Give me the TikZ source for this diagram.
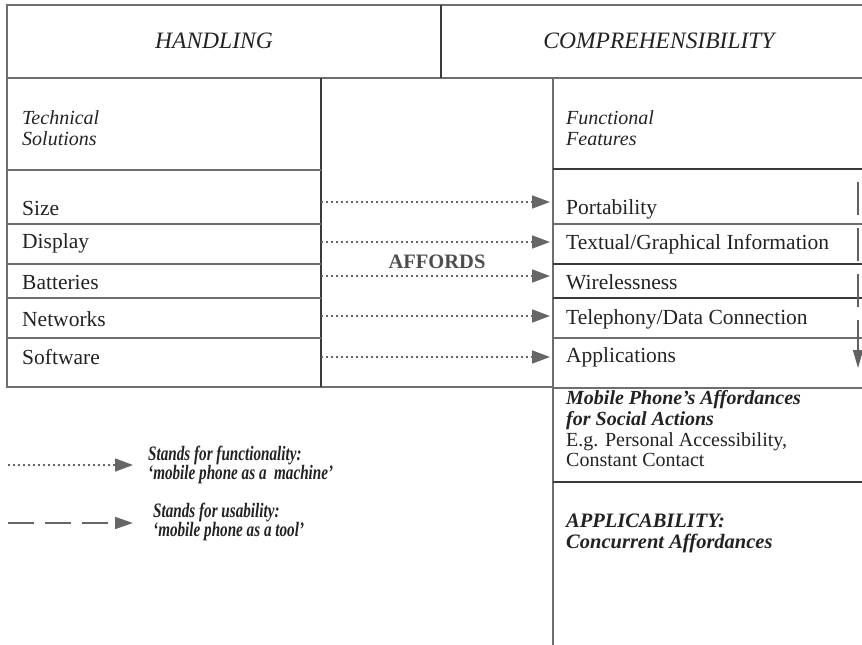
\documentclass[tikz,border=0pt]{standalone}
\usepackage{fontspec}
\setmainfont{Liberation Serif}
\newfontfamily\narrowserif[FakeStretch=0.74]{Liberation Serif}
\usetikzlibrary{arrows.meta}
\definecolor{rule}{HTML}{6E6E6E}
\definecolor{ruledark}{HTML}{3A3A3A}
\definecolor{ink}{HTML}{222222}
\definecolor{tipgray}{HTML}{666666}
\begin{document}
\begin{tikzpicture}[x=1pt,y=-1pt,
  frame/.style={draw=rule,line width=1.2pt},
  framedark/.style={draw=ruledark,line width=1.1pt},
  txt/.style={inner sep=0pt,anchor=west,text=ink,font=\fontsize{21.5}{21}\selectfont},
  head/.style={inner sep=0pt,text=ink,font=\fontsize{23.5}{24}\selectfont\itshape},
  itxt/.style={txt,font=\fontsize{20}{21}\selectfont\itshape,align=left},
  itbold/.style={txt,font=\fontsize{20.5}{21}\selectfont\itshape\bfseries,align=left},
  legtxt/.style={txt,font=\narrowserif\fontsize{20.5}{19.5}\selectfont\itshape\bfseries,align=left},
  dotarrow/.style={draw=tipgray,line width=1.6pt,dash pattern=on 1.6pt off 3.4pt,
    -{Triangle[length=18pt,width=13pt,fill=tipgray]}},
  dasharrow/.style={draw=tipgray,line width=1.6pt,dash pattern=on 26pt off 11pt,
    -{Triangle[length=18pt,width=12pt,fill=tipgray]}}
]
\useasboundingbox (0,0) rectangle (862,645);

% header band
\draw[frame] (862,5) -- (7,5) -- (7,387) -- (553,387);
\draw[frame] (7,78) -- (862,78);
\draw[framedark] (441,5) -- (441,78);
\node[head] (handling) at (214,41) {HANDLING};
\node[head] (compr) at (659,41) {COMPREHENSIBILITY};

% column dividers
\draw[framedark] (321,78) -- (321,387);
\draw[frame] (553,78) -- (553,645);

% row rules, left column
\foreach \y in {170,224,264,298,338}
  \draw[frame] (7,\y) -- (321,\y);
% row rules, right column
\draw[framedark] (553,169) -- (862,169);
\draw[frame] (553,224) -- (862,224);
\draw[framedark] (553,264) -- (862,264);
\draw[framedark] (553,298) -- (862,298);
\draw[frame] (553,338) -- (862,338);
\draw[frame] (553,388) -- (862,388);
\draw[framedark] (553,482) -- (862,482);

% left column texts
\node[itxt] (tech) at (22,128) {Technical\\Solutions};
\node[txt] (size) at (22,208) {Size};
\node[txt] (display) at (22,243) {Display};
\node[txt] (batt) at (22,282) {Batteries};
\node[txt] (net) at (22,319) {Networks};
\node[txt] (soft) at (22,357) {Software};

% right column texts
\node[itxt] (func) at (566,128) {Functional\\Features};
\node[txt] (port) at (566,209) {Portability};
\node[txt] (textual) at (566,244) {Textual/Graphical Information};
\node[txt] (wire) at (566,282) {Wirelessness};
\node[txt] (tele) at (566,319) {Telephony/Data Connection};
\node[txt] (apps) at (566,357) {Applications};

\node[inner sep=0pt,text=ruledark!90,font=\fontsize{20.5}{21}\selectfont\bfseries] (affords) at (437,262) {AFFORDS};

% affordance arrows across the middle column
\foreach \i/\y in {1/202,2/242,3/276,4/316,5/357}{
  \coordinate (from\i) at (321,\y);
  \coordinate (to\i) at (550,\y);
  \draw[dotarrow] (from\i) -- (to\i);
}

% vertical dashed arrow at the right edge
\coordinate (vtop) at (858,182);
\coordinate (vbot) at (858,368);
\draw[draw=ruledark!80,line width=1.6pt,dash pattern=on 33pt off 13pt,
  -{Triangle[length=18pt,width=10pt,fill=ruledark!80]}] (vtop) -- (vbot);

% lower right cells
\node[txt,align=left,font=\fontsize{20}{20.7}\selectfont] (social) at (566,429)
  {\textbf{\itshape Mobile Phone’s Affordances}\\\textbf{\itshape for Social Actions}\\E.g. Personal Accessibility,\\Constant Contact};
\node[itbold] (applic) at (566,533) {APPLICABILITY:\\Concurrent Affordances};

% legend
\coordinate (l1a) at (8,465);
\coordinate (l1b) at (133,465);
\draw[dotarrow] (l1a) -- (l1b);
\node[legtxt] (leg1) at (148,465) {Stands for functionality:\\‘mobile phone as a\ \ machine’};
\coordinate (l2a) at (8,523);
\coordinate (l2b) at (133,523);
\draw[dasharrow] (l2a) -- (l2b);
\node[legtxt] (leg2) at (153,522) {Stands for usability:\\‘mobile phone as a tool’};
\end{tikzpicture}
\end{document}
